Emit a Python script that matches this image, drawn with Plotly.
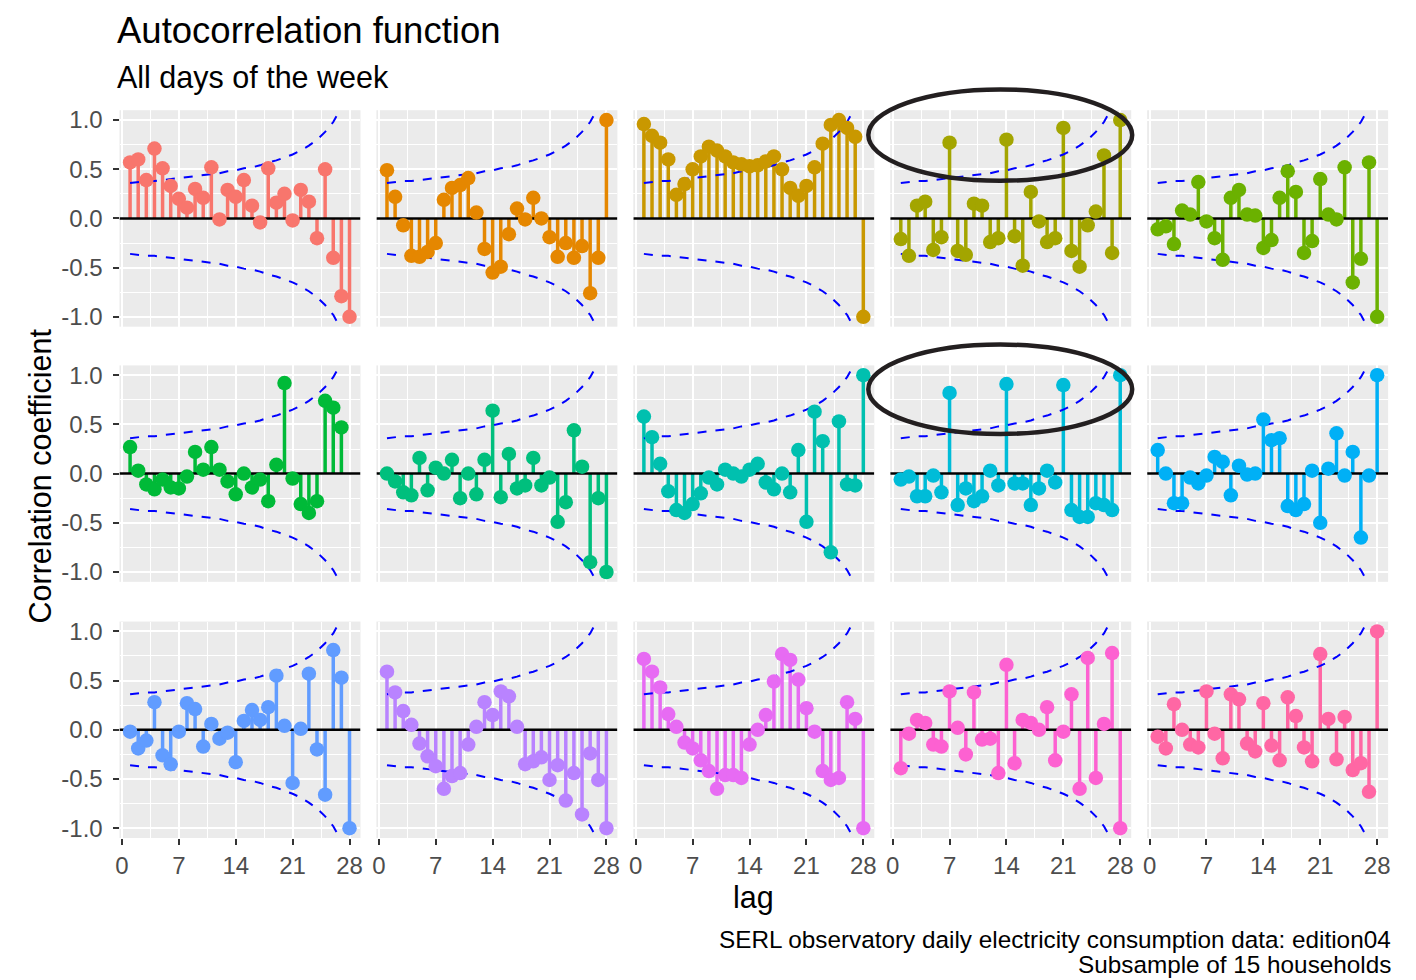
import plotly.graph_objects as go

# Lags shown in every panel
lags = list(range(1, 29))

# Autocorrelation coefficients, one list per household (lags 1..28)
acf_h01 = [0.57, 0.60, 0.39, 0.71, 0.51, 0.33, 0.20, 0.11, 0.30, 0.21, 0.52, -0.01, 0.29, 0.22,
           0.39, 0.13, -0.04, 0.51, 0.16, 0.25, -0.02, 0.29, 0.17, -0.20, 0.50, -0.40, -0.79, -1.00]
acf_h02 = [0.49, 0.22, -0.07, -0.38, -0.39, -0.34, -0.25, 0.19, 0.31, 0.34, 0.41, 0.06, -0.31, -0.55,
           -0.49, -0.16, 0.10, -0.01, 0.21, 0.00, -0.19, -0.39, -0.25, -0.40, -0.28, -0.76, -0.40, 1.00]
acf_h03 = [0.96, 0.84, 0.77, 0.60, 0.24, 0.35, 0.50, 0.63, 0.73, 0.69, 0.63, 0.57, 0.55, 0.53,
           0.54, 0.58, 0.63, 0.50, 0.31, 0.23, 0.33, 0.52, 0.76, 0.95, 1.00, 0.92, 0.83, -1.00]
acf_h04 = [-0.21, -0.38, 0.13, 0.17, -0.32, -0.19, 0.77, -0.33, -0.37, 0.15, 0.13, -0.24, -0.20, 0.80,
           -0.18, -0.48, 0.27, -0.03, -0.24, -0.20, 0.92, -0.33, -0.49, -0.07, 0.07, 0.64, -0.35, 1.00]
acf_h05 = [-0.11, -0.08, -0.26, 0.08, 0.04, 0.37, -0.03, -0.20, -0.42, 0.21, 0.29, 0.04, 0.03, -0.30,
           -0.22, 0.21, 0.48, 0.27, -0.35, -0.23, 0.40, 0.04, -0.01, 0.52, -0.65, -0.41, 0.57, -1.00]
acf_h06 = [0.27, 0.03, -0.11, -0.16, -0.06, -0.14, -0.15, -0.03, 0.22, 0.04, 0.27, 0.04, -0.08, -0.21,
           0.00, -0.14, -0.06, -0.28, 0.09, 0.92, -0.05, -0.31, -0.40, -0.28, 0.74, 0.67, 0.47, None]
acf_h07 = [0.00, -0.08, -0.19, -0.22, 0.16, -0.17, 0.06, 0.00, 0.14, -0.25, 0.00, -0.21, 0.14, 0.64,
           -0.24, 0.20, -0.15, -0.12, 0.16, -0.12, -0.04, -0.49, -0.29, 0.44, 0.07, -0.90, -0.25, -1.00]
acf_h08 = [0.58, 0.37, 0.10, -0.18, -0.37, -0.40, -0.31, -0.20, -0.04, -0.11, 0.04, 0.00, -0.03, 0.04,
           0.10, -0.09, -0.16, 0.00, -0.19, 0.24, -0.49, 0.63, 0.33, -0.80, 0.53, -0.11, -0.12, 1.00]
acf_h09 = [-0.06, -0.03, -0.23, -0.23, -0.02, -0.19, 0.82, -0.32, -0.15, -0.28, -0.23, 0.03, -0.12, 0.91,
           -0.10, -0.10, -0.32, -0.15, 0.03, -0.09, 0.90, -0.37, -0.44, -0.44, -0.30, -0.32, -0.37, 1.00]
acf_h10 = [0.24, 0.00, -0.30, -0.30, -0.04, -0.10, -0.02, 0.17, 0.12, -0.22, 0.08, -0.01, 0.00, 0.55,
           0.34, 0.36, -0.33, -0.37, -0.31, 0.03, -0.50, 0.05, 0.41, -0.02, 0.22, -0.65, -0.02, 1.00]
acf_h11 = [-0.02, -0.19, -0.11, 0.28, -0.26, -0.35, -0.02, 0.27, 0.21, -0.17, 0.06, -0.09, -0.03, -0.33,
           0.09, 0.20, 0.10, 0.23, 0.55, 0.04, -0.54, 0.01, 0.57, -0.20, -0.66, 0.81, 0.53, -1.00]
acf_h12 = [0.59, 0.38, 0.19, 0.05, -0.14, -0.27, -0.37, -0.60, -0.47, -0.44, -0.15, 0.03, 0.28, 0.15,
           0.39, 0.34, 0.03, -0.35, -0.32, -0.28, -0.51, -0.36, -0.72, -0.44, -0.86, -0.24, -0.51, -1.00]
acf_h13 = [0.72, 0.59, 0.43, 0.16, 0.03, -0.13, -0.19, -0.31, -0.42, -0.60, -0.46, -0.46, -0.49, -0.15,
           0.00, 0.15, 0.49, 0.77, 0.71, 0.51, 0.22, -0.02, -0.42, -0.51, -0.49, 0.28, 0.11, -1.00]
acf_h14 = [-0.39, -0.04, 0.10, 0.07, -0.15, -0.17, 0.39, 0.02, -0.25, 0.38, -0.10, -0.09, -0.44, 0.66,
           -0.34, 0.10, 0.07, 0.00, 0.23, -0.31, -0.02, 0.36, -0.60, 0.73, -0.49, 0.06, 0.78, -1.00]
acf_h15 = [-0.07, -0.19, 0.26, 0.00, -0.15, -0.18, 0.39, -0.04, -0.29, 0.36, 0.31, -0.14, -0.22, 0.27,
           -0.16, -0.31, 0.33, 0.14, -0.18, -0.32, 0.77, 0.11, -0.30, 0.13, -0.41, -0.34, -0.63, 1.00]

households = [acf_h01, acf_h02, acf_h03, acf_h04, acf_h05,
              acf_h06, acf_h07, acf_h08, acf_h09, acf_h10,
              acf_h11, acf_h12, acf_h13, acf_h14, acf_h15]

# Significance bound (upper, the lower one is its mirror) for lags 1..27
band_lags = list(range(1, 28))
band_upper = [0.36, 0.37, 0.38, 0.38, 0.39, 0.40, 0.41, 0.42, 0.43, 0.44, 0.45, 0.46, 0.48, 0.49,
              0.51, 0.52, 0.54, 0.57, 0.59, 0.62, 0.65, 0.69, 0.74, 0.80, 0.88, 0.98, 1.13]

panel_colours = ["#F8766D", "#E58700", "#C99800", "#A3A500", "#6BB100",
                 "#00BA38", "#00BF7D", "#00C0AF", "#00BCD8", "#00B0F6",
                 "#619CFF", "#B983FF", "#E76BF3", "#FD61D1", "#FF67A4"]

y_ticks = [-1.0, -0.5, 0.0, 0.5, 1.0]
y_tick_text = ["-1.0", "-0.5", "0.0", "0.5", "1.0"]
x_ticks = [0, 7, 14, 21, 28]
x_tick_text = ["0", "7", "14", "21", "28"]

# Figure geometry (pixels)
W, H = 1416, 980
col_left = [116, 374, 632, 890, 1148]
row_top = [107, 364, 622]
panel_w, panel_h = 242, 218
x_range = [-0.3, 29.35]
y_range = [-1.1, 1.1]

FONT = "Liberation Sans, Arial, sans-serif"
AXIS_TEXT = "#4D4D4D"

fig = go.Figure()
layout = dict(
    width=W, height=H, autosize=False,
    margin=dict(l=0, r=0, t=0, b=0),
    paper_bgcolor="white", plot_bgcolor="#EBEBEB",
    showlegend=False,
    font=dict(family=FONT, color="black"),
)

for i, acf in enumerate(households):
    r, c = divmod(i, 5)
    n = "" if i == 0 else str(i + 1)
    xa, ya = "x" + n, "y" + n
    col = panel_colours[i]

    # stems from zero to each coefficient
    sx, sy = [], []
    for k, v in zip(lags, acf):
        if v is None:
            continue
        sx += [k, k, None]
        sy += [0, v, None]
    fig.add_trace(go.Scatter(x=sx, y=sy, mode="lines", line=dict(color=col, width=3.5),
                             xaxis=xa, yaxis=ya, hoverinfo="skip"))

    # confidence bounds
    bx = band_lags + [None] + band_lags
    by = band_upper + [None] + [-b for b in band_upper]
    fig.add_trace(go.Scatter(x=bx, y=by, mode="lines",
                             line=dict(color="#0000FF", width=2, dash="9px,9px"),
                             xaxis=xa, yaxis=ya, hoverinfo="skip"))

    # zero reference line
    fig.add_trace(go.Scatter(x=x_range, y=[0, 0], mode="lines",
                             line=dict(color="black", width=2.5),
                             xaxis=xa, yaxis=ya, hoverinfo="skip"))

    # coefficient points
    fig.add_trace(go.Scatter(x=lags, y=acf, mode="markers",
                             marker=dict(color=col, size=14.5, line=dict(width=0)),
                             xaxis=xa, yaxis=ya, name=f"household {i + 1}"))

    x0 = col_left[c] / W
    x1 = (col_left[c] + panel_w) / W
    y1 = 1 - row_top[r] / H
    y0 = 1 - (row_top[r] + panel_h) / H
    bottom = r == 2
    left = c == 0

    layout["xaxis" + n] = dict(
        domain=[x0, x1], range=x_range, anchor=ya,
        tickvals=x_ticks, ticktext=x_tick_text,
        showticklabels=bottom, ticks="outside" if bottom else "",
        ticklen=6, tickwidth=2, tickcolor="#333333",
        tickfont=dict(size=24, color=AXIS_TEXT, family=FONT),
        showgrid=True, gridcolor="white", gridwidth=2.2,
        minor=dict(tickvals=[3.5, 10.5, 17.5, 24.5], showgrid=True,
                   gridcolor="white", gridwidth=1.1, ticks=""),
        zeroline=False, showline=False, fixedrange=True,
    )
    layout["yaxis" + n] = dict(
        domain=[y0, y1], range=y_range, anchor=xa,
        tickvals=y_ticks, ticktext=y_tick_text,
        showticklabels=left, ticks="outside" if left else "",
        ticklen=6, tickwidth=2, tickcolor="#333333", ticklabelstandoff=5,
        tickfont=dict(size=24, color=AXIS_TEXT, family=FONT),
        showgrid=True, gridcolor="white", gridwidth=2.2,
        minor=dict(tickvals=[-0.75, -0.25, 0.25, 0.75], showgrid=True,
                   gridcolor="white", gridwidth=1.1, ticks=""),
        zeroline=False, showline=False, fixedrange=True,
    )

def px(x):
    return x / W

def py(y):
    return 1 - y / H

annotations = [
    dict(text="Autocorrelation function", x=px(111), y=py(27), xanchor="left", yanchor="middle",
         font=dict(size=36.5, color="black", family=FONT)),
    dict(text="All days of the week", x=px(111), y=py(74), xanchor="left", yanchor="middle",
         font=dict(size=30.5, color="black", family=FONT)),
    dict(text="lag", x=px(753), y=py(900), xanchor="center", yanchor="middle",
         font=dict(size=30.5, color="black", family=FONT)),
    dict(text="Correlation coefficient", x=px(36), y=py(475), xanchor="center", yanchor="middle",
         textangle=-90, font=dict(size=30.5, color="black", family=FONT)),
    dict(text="SERL observatory daily electricity consumption data: edition04", x=px(1395), y=py(942),
         xanchor="right", yanchor="middle", font=dict(size=24.3, color="black", family=FONT)),
    dict(text="Subsample of 15 households", x=px(1395), y=py(967),
         xanchor="right", yanchor="middle", font=dict(size=24.3, color="black", family=FONT)),
]
for a in annotations:
    a.update(xref="paper", yref="paper", showarrow=False)
layout["annotations"] = annotations

# Highlight rings around the weekly peaks
layout["shapes"] = [
    dict(type="circle", xref="paper", yref="paper",
         x0=px(868), x1=px(1133), y0=py(178), y1=py(86),
         line=dict(color="#231F20", width=4.5)),
    dict(type="circle", xref="paper", yref="paper",
         x0=px(868), x1=px(1133), y0=py(433), y1=py(343),
         line=dict(color="#231F20", width=4.5)),
]

fig.update_layout(**layout)
fig.write_html("out.html")
